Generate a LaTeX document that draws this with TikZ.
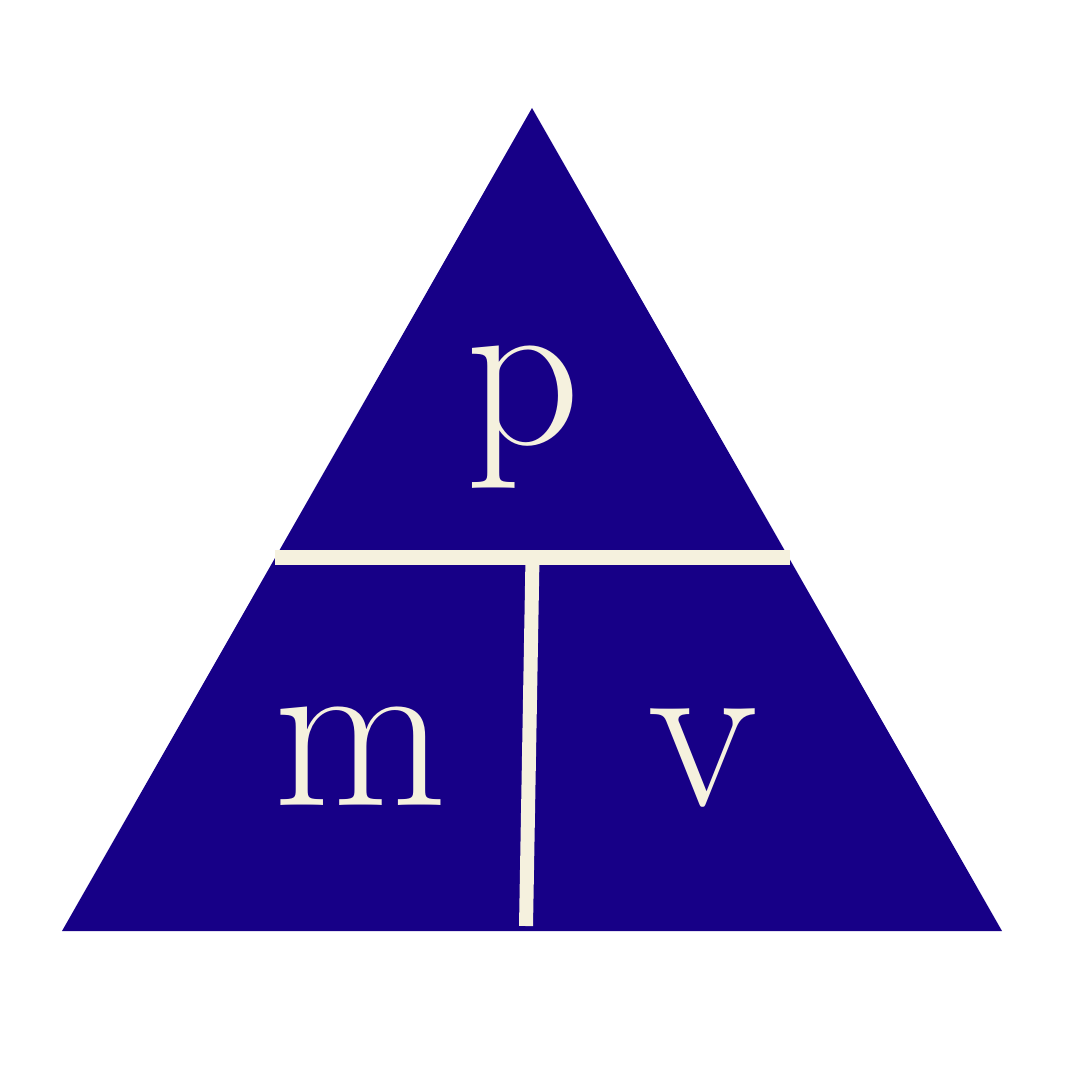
\documentclass[tikz,border=0pt]{standalone}
\usepackage{tikz}
\usetikzlibrary{positioning,calc}
\definecolor{DeepIndigo}{HTML}{170087}
\definecolor{Cream}{HTML}{F5F1DE}

\begin{document}
\begin{tikzpicture}[x=0.01cm, y=-0.01cm,
  every node/.style={font=\fontsize{64}{64}\selectfont, text=Cream, inner sep=0pt, anchor=base},
  bar/.style={line width=15*0.01cm, draw=Cream}]
  \useasboundingbox (0,0) rectangle (1080,1080);

  % Triangle
  \coordinate (apex) at (532,108);
  \coordinate (left) at (62,931);
  \coordinate (right) at (1002,931);
  \fill[DeepIndigo] (apex) -- (left) -- (right) -- cycle;

  % Dividers
  \coordinate (barL) at (275,557);
  \coordinate (barR) at (790,557);
  \coordinate (stemTop) at (532.5,557);
  \coordinate (stemBot) at (526,926);
  \draw[bar] (barL) -- (barR);
  \draw[bar, line width=14*0.01cm] (stemTop) -- (stemBot);

  % Letters
  \node (p) at (523,445) {p};
  \node (m) at (360,805) {m};
  \node (v) at (703,805) {v};
\end{tikzpicture}
\end{document}
